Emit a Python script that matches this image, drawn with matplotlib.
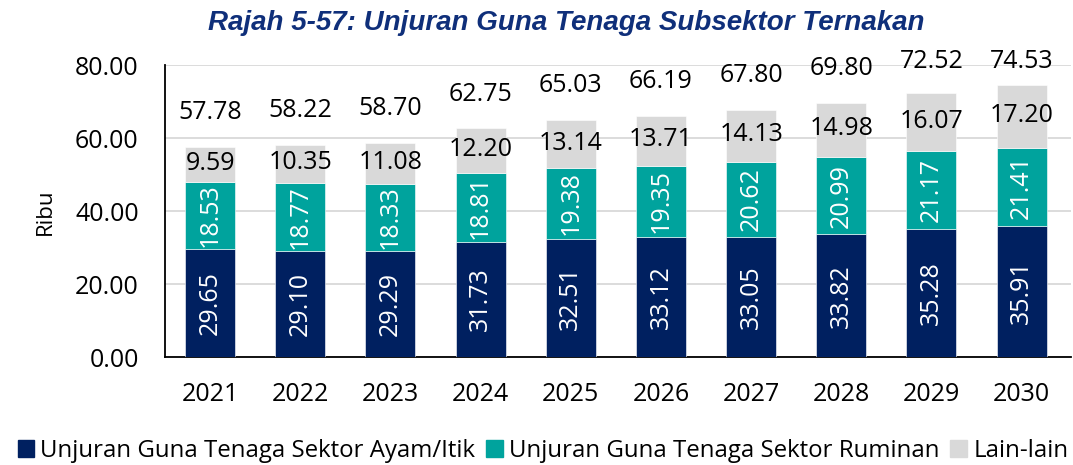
import matplotlib.pyplot as plt
import numpy as np
from matplotlib.patches import Patch

years = ['2021', '2022', '2023', '2024', '2025', '2026', '2027', '2028', '2029', '2030']
ayam_itik = [29.65, 29.10, 29.29, 31.73, 32.51, 33.12, 33.05, 33.82, 35.28, 35.91]
ruminan = [18.53, 18.77, 18.33, 18.81, 19.38, 19.35, 20.62, 20.99, 21.17, 21.41]
lain_lain = [9.59, 10.35, 11.08, 12.20, 13.14, 13.71, 14.13, 14.98, 16.07, 17.20]
jumlah = [57.78, 58.22, 58.70, 62.75, 65.03, 66.19, 67.80, 69.80, 72.52, 74.53]

c_ayam = '#002060'
c_rum = '#00A39D'
c_lain = '#D9D9D9'
font = 'Open Sans'
fs = 18

fig = plt.figure(figsize=(10.73, 4.65), dpi=100)
ax = fig.add_axes([0.1538, 0.2312, 0.8443, 0.6280])

x = np.arange(len(years))
w = 0.554
ax.bar(x, ayam_itik, w, color=c_ayam, edgecolor='white', linewidth=0.4, zorder=3)
ax.bar(x, ruminan, w, bottom=ayam_itik, color=c_rum, edgecolor='white', linewidth=0.4, zorder=3)
base2 = np.array(ayam_itik) + np.array(ruminan)
ax.bar(x, lain_lain, w, bottom=base2, color=c_lain, edgecolor='white', linewidth=0.4, zorder=3)

for i in range(len(years)):
    ax.text(x[i], ayam_itik[i] / 2, f'{ayam_itik[i]:.2f}', rotation=90, ha='center', va='center',
            color='white', fontsize=fs, family=font, zorder=4)
    ax.text(x[i], ayam_itik[i] + ruminan[i] / 2, f'{ruminan[i]:.2f}', rotation=90, ha='center', va='center',
            color='white', fontsize=fs, family=font, zorder=4)
    ax.text(x[i], base2[i] + lain_lain[i] / 2 + 0.3, f'{lain_lain[i]:.2f}', ha='center', va='center',
            color='black', fontsize=fs, family=font, zorder=4)
    # total above each stack, kept inside the top margin
    ax.text(x[i], min(jumlah[i] + 9.4, 81.2), f'{jumlah[i]:.2f}', ha='center', va='center',
            color='black', fontsize=fs, family=font, zorder=4, clip_on=False)

ax.set_xlim(-0.5, len(years) - 0.453)
ax.set_ylim(0, 80)
ax.set_yticks([0, 20, 40, 60, 80])
ax.set_yticklabels([f'{v:.2f}' for v in [0, 20, 40, 60, 80]], family=font, fontsize=fs)
ax.set_xticks(x)
ax.set_xticklabels(years, family=font, fontsize=fs)
ax.tick_params(axis='y', length=0, pad=19)
ax.tick_params(axis='x', length=0, pad=18)
ax.grid(axis='y', color='#D9D9D9', linewidth=1.3, zorder=0)
ax.spines['top'].set_visible(False)
ax.spines['right'].set_visible(False)
ax.spines['left'].set_linewidth(1.3)
ax.spines['bottom'].set_linewidth(1.3)
ax.set_ylabel('Ribu', family=font, fontsize=16, labelpad=14)

fig.text(0.528, 0.951, 'Rajah 5-57: Unjuran Guna Tenaga Subsektor Ternakan', ha='center', va='center',
         fontsize=20, fontweight='bold', fontstyle='italic', family='Liberation Sans', color='#0F2F7A')

handles = [Patch(color=c_ayam, label='Unjuran Guna Tenaga Sektor Ayam/Itik'),
           Patch(color=c_rum, label='Unjuran Guna Tenaga Sektor Ruminan'),
           Patch(color=c_lain, label='Lain-lain')]
fig.legend(handles=handles, loc='center', bbox_to_anchor=(0.506, 0.03), ncol=3, frameon=False,
           prop={'family': font, 'size': 17.3}, handlelength=0.7, handleheight=0.7,
           handletextpad=0.25, columnspacing=0.45, borderpad=0)

fig.savefig('out.png', dpi=100)
